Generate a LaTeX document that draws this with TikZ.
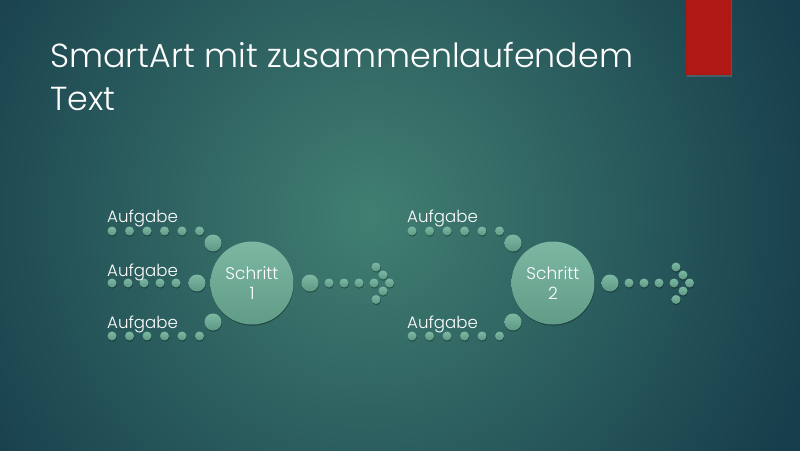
\documentclass[tikz,border=0pt]{standalone}
\usepackage{fontspec}
\setmainfont{Poppins Light}
\usetikzlibrary{shadows}
\definecolor{bgdark}{HTML}{163D4B}
\definecolor{bglight}{HTML}{417F72}
\definecolor{redbar}{HTML}{B01816}
\definecolor{dottop}{HTML}{7DB8A3}
\definecolor{dotbot}{HTML}{5C9884}
\definecolor{bigtop}{HTML}{7CB7A2}
\definecolor{bigbot}{HTML}{609C87}
\tikzset{
  softshadow/.style={drop shadow={shadow xshift=0.4pt, shadow yshift=-1.2pt, opacity=0.3, fill=black}},
  sdot/.style={circle, inner sep=0pt, minimum size=9pt, top color=dottop, bottom color=dotbot, softshadow},
  mdot/.style={circle, inner sep=0pt, minimum size=17pt, top color=dottop, bottom color=dotbot, softshadow},
  bigc/.style={circle, inner sep=0pt, minimum size=83pt, top color=bigtop, bottom color=bigbot, softshadow,
     text=white, font=\fontsize{17}{20}\selectfont, align=center},
  lbl/.style={anchor=base west, inner sep=0pt, text=white, font=\fontsize{16.6}{18}\selectfont},
  ttl/.style={anchor=base west, inner sep=0pt, text=white, font=\fontsize{33.3}{43}\selectfont}
}
\begin{document}
\begin{tikzpicture}[x=1pt,y=-1pt]
\useasboundingbox (0,0) rectangle (800,450);
\fill[bgdark] (-5,-5) rectangle (805,455);
\begin{scope}
  \clip (-5,-5) rectangle (805,455);
  \shade[inner color=bglight, outer color=bgdark] (370,215) circle (470pt);
\end{scope}
% red bar
\fill[redbar, drop shadow={shadow xshift=1pt, shadow yshift=-1.5pt, opacity=0.4}] (686,-3) rectangle (731,75);
% title
\node[ttl] (title1) at (50,67) {SmartArt mit zusammenlaufendem};
\node[ttl] (title2) at (50,110) {Text};

% ---------- group 1 ----------
\foreach \x [count=\i] in {112,129.5,147,164.5,182,199.5}{
  \node[sdot] (at\i) at (\x,231) {};
  \node[sdot] (ab\i) at (\x,336) {};
}
\foreach \x [count=\i] in {112,128,144,160,176}{
  \node[sdot] (am\i) at (\x,283) {};
}
\node[mdot] (atm) at (213,243) {};
\node[mdot] (amm) at (197,283) {};
\node[mdot] (abm) at (213,322) {};
\node[bigc] (s1) at (252,283) {Schritt\\1};
\node[mdot] (arm) at (310,283) {};
\foreach \x [count=\i] in {329,344,359,374}{
  \node[sdot] (ar\i) at (\x,283) {};
}
\node[sdot] (aa1) at (376,267) {};
\node[sdot] (aa2) at (383,275) {};
\node[sdot] (aa3) at (389.5,283) {};
\node[sdot] (aa4) at (383,291) {};
\node[sdot] (aa5) at (376,299.5) {};
\node[lbl] (la1) at (107,222.5) {Aufgabe};
\node[lbl] (la2) at (107,276) {Aufgabe};
\node[lbl] (la3) at (107,328.5) {Aufgabe};

% ---------- group 2 ----------
\foreach \x [count=\i] in {412,429.5,447,464.5,482,499.5}{
  \node[sdot] (bt\i) at (\x,231) {};
  \node[sdot] (bb\i) at (\x,336) {};
}
\node[mdot] (btm) at (513,243) {};
\node[mdot] (bbm) at (513,322) {};
\node[bigc] (s2) at (553,283) {Schritt\\2};
\node[mdot] (brm) at (610,283) {};
\foreach \x [count=\i] in {629,644,659,674}{
  \node[sdot] (br\i) at (\x,283) {};
}
\node[sdot] (ba1) at (676,267) {};
\node[sdot] (ba2) at (683,275) {};
\node[sdot] (ba3) at (689.5,283) {};
\node[sdot] (ba4) at (683,291) {};
\node[sdot] (ba5) at (676,299.5) {};
\node[lbl] (lb1) at (407,222.5) {Aufgabe};
\node[lbl] (lb3) at (407,328.5) {Aufgabe};
\end{tikzpicture}
\end{document}
